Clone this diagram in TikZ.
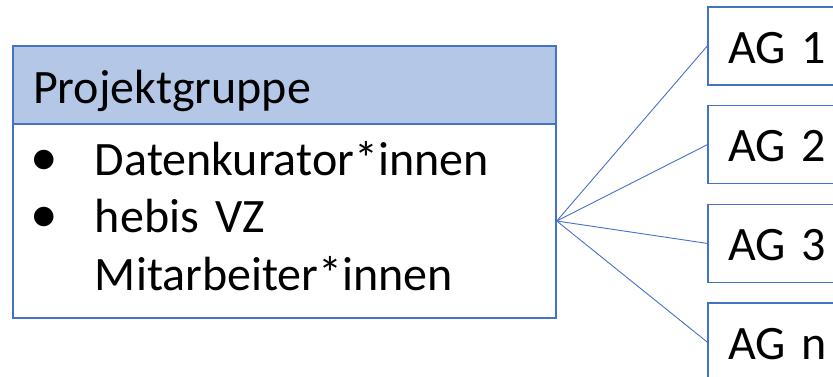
\documentclass[tikz,border=0pt]{standalone}
\usepackage{fontspec}
\setmainfont{Carlito}
\usetikzlibrary{positioning}
\definecolor{agblue}{HTML}{4472C4}
\definecolor{headblue}{HTML}{B4C7E7}
\newcommand{\agfont}{\fontsize{48}{57.5}\selectfont}

\begin{document}
\begin{tikzpicture}
    [
        x=1pt, y=-1pt, node distance=98.7pt and 0pt, on grid,
        big_text/.style={font=\agfont},
        head_node/.style={rectangle, draw=agblue, fill=headblue, line width=1.5pt, big_text, minimum width=543pt, minimum height=78pt, inner xsep=20pt, inner ysep=0pt, text width=503pt, text height=40pt, text depth=4pt},
        body_node/.style={rectangle, draw=agblue, fill=white, line width=1.5pt, big_text, minimum width=543pt, minimum height=194pt, inner xsep=20pt, inner ysep=0pt, text width=503pt},
        ag_node/.style={rectangle, draw=agblue, fill=white, line width=1.5pt, big_text, minimum width=150pt, minimum height=78pt, inner xsep=20pt, inner ysep=0pt, text width=110pt, text height=34pt, text depth=0pt},
        link/.style={draw=agblue, line width=0.9pt},
    ]
        \clip (0,0) rectangle (833,376) ;
        % Projektgruppe
        \node[head_node] (head) at (284.5,85) {Projektgruppe} ;
        \node[body_node] (body) [below = 136pt of head] {\raisebox{-3pt}{\begin{tabular}{@{}p{62pt}@{}l@{}}
            \hspace{-2pt}\scalebox{1.15}{\textbullet} & Datenkurator*innen \\
            \hspace{-2pt}\scalebox{1.15}{\textbullet} & hebis VZ \\
             & Mitarbeiter*innen
        \end{tabular}}} ;
        % Arbeitsgruppen
        \node[ag_node] (ag1) at (783,46) {AG 1} ;
        \node[ag_node] (ag2) [below = of ag1] {AG 2} ;
        \node[ag_node] (ag3) [below = of ag2] {AG 3} ;
        \node[ag_node] (agn) [below = of ag3] {AG n} ;
        \draw[link] (body.east) -- (ag1.west) ;
        \draw[link] (body.east) -- (ag2.west) ;
        \draw[link] (body.east) -- (ag3.west) ;
        \draw[link] (body.east) -- (agn.west) ;
\end{tikzpicture}
\end{document}
